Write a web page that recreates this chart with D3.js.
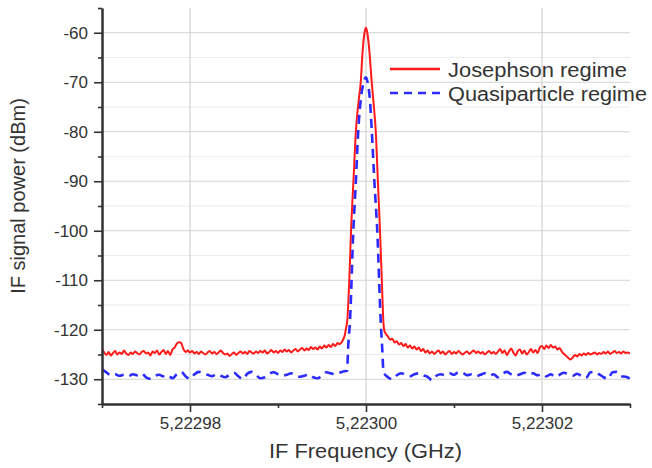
<!DOCTYPE html>
<html>
<head>
<meta charset="utf-8">
<script src="https://cdn.jsdelivr.net/npm/d3@7"></script>
<style>
  body { margin: 0; background: #fff; }
  .chart text { font-family: "Liberation Sans", Arial, sans-serif; fill: #333; }
</style>
</head>
<body>
<div class="chart"></div>
<script>
// frequency offsets are kHz from the 5,22300 GHz centre, power in dBm
var centerGHz = 5.223;

var redLeft = [
  [-30,-123.9],[-29.75,-124.6],[-29.5,-125.1],[-29.25,-124.5],[-29,-125.2],[-28.75,-124.7],[-28.5,-124.3],[-28.25,-125.0],
  [-28,-124.6],[-27.75,-124.9],[-27.5,-124.2],[-27.25,-124.8],[-27,-125.1],[-26.75,-124.6],[-26.5,-124.9],[-26.25,-124.4],
  [-26,-124.7],[-25.75,-125.0],[-25.5,-124.5],[-25.25,-124.3],[-25,-124.8],[-24.75,-124.6],[-24.5,-125.2],[-24.25,-124.4],
  [-24,-124.7],[-23.75,-124.2],[-23.5,-125.0],[-23.25,-124.5],[-23,-124.1],[-22.75,-124.9],[-22.5,-124.3],[-22.25,-125.1],
  [-22,-124.0],[-21.75,-123.6],[-21.5,-122.8],[-21.25,-122.5],[-21,-122.7],[-20.75,-123.9],[-20.5,-124.5],[-20.25,-124.2],
  [-20,-124.6],[-19.75,-124.3],[-19.5,-124.8],[-19.25,-124.5],[-19,-124.9],[-18.75,-124.4],[-18.5,-124.7],[-18.25,-125.0],
  [-18,-124.6],[-17.75,-124.3],[-17.5,-124.8],[-17.25,-124.5],[-17,-124.9],[-16.75,-124.6],[-16.5,-124.2],[-16.25,-124.7],
  [-16,-125.0],[-15.75,-124.8],[-15.5,-125.3],[-15.25,-124.9],[-15,-124.6],[-14.75,-125.1],[-14.5,-124.7],[-14.25,-124.4],
  [-14,-124.8],[-13.75,-124.5],[-13.5,-124.9],[-13.25,-124.3],[-13,-124.6],[-12.75,-124.8],[-12.5,-124.4],[-12.25,-124.7],
  [-12,-124.3],[-11.75,-124.6],[-11.5,-124.2],[-11.25,-124.8],[-11,-124.5],[-10.75,-124.1],[-10.5,-124.6],[-10.25,-124.3],
  [-10,-124.7],[-9.75,-124.2],[-9.5,-124.5],[-9.25,-124.0],[-9,-124.4],[-8.75,-124.1],[-8.5,-124.6],[-8.25,-124.2],
  [-8,-123.9],[-7.75,-124.4],[-7.5,-124.0],[-7.25,-123.7],[-7,-124.2],[-6.75,-123.8],[-6.5,-124.1],[-6.25,-123.5],
  [-6,-123.9],[-5.75,-123.6],[-5.5,-124.0],[-5.25,-123.4],[-5,-123.8],[-4.75,-123.2],[-4.5,-123.6],[-4.25,-123.1],
  [-4,-123.5],[-3.75,-122.9],[-3.5,-123.3],[-3.25,-122.7],[-3,-122.9]
];

var redPeak = [
  [-2.75,-122.5],[-2.55,-121.8],[-2.4,-121.0],[-2.25,-119.5],[-2.13,-118.2],[-1.9,-110],[-1.7,-100],[-1.4,-89],
  [-1.14,-79.6],[-0.85,-74],[-0.6,-70],[-0.375,-63.5],[-0.17,-60],[0,-59],[0.15,-60],[0.375,-63.5],
  [0.65,-70],[0.9,-75],[1.1,-79.6],[1.35,-90],[1.59,-100],[1.8,-110],[1.97,-118.2],[2.1,-120.3],[2.25,-120.8]
];

var redRight = [
  [2.5,-121.4],[2.75,-122.0],[3,-121.8],[3.25,-122.6],[3.5,-122.3],[3.75,-123.0],[4,-122.7],[4.25,-123.3],
  [4.5,-122.9],[4.75,-123.6],[5,-123.2],[5.25,-123.8],[5.5,-123.4],[5.75,-124.0],[6,-123.6],[6.25,-124.3],
  [6.5,-123.9],[6.75,-124.6],[7,-124.2],[7.25,-124.8],[7.5,-124.4],[7.75,-124.9],[8,-124.5],[8.25,-124.2],
  [8.5,-124.8],[8.75,-124.4],[9,-125.0],[9.25,-124.6],[9.5,-124.3],[9.75,-124.9],[10,-124.5],[10.25,-124.8],
  [10.5,-124.3],[10.75,-124.7],[11,-125.0],[11.25,-124.6],[11.5,-124.4],[11.75,-124.9],[12,-124.5],[12.25,-124.2],
  [12.5,-124.7],[12.75,-124.4],[13,-124.8],[13.25,-124.5],[13.5,-125.0],[13.75,-124.6],[14,-124.3],[14.25,-124.8],
  [14.5,-124.5],[14.75,-124.9],[15,-124.4],[15.25,-123.9],[15.5,-124.7],[15.75,-124.2],[16,-125.1],[16.25,-124.4],
  [16.5,-123.8],[16.75,-124.6],[17,-125.2],[17.25,-124.3],[17.5,-124.0],[17.75,-124.8],[18,-124.2],[18.25,-125.0],
  [18.5,-124.5],[18.75,-123.9],[19,-124.6],[19.25,-124.1],[19.5,-124.7],[19.75,-123.6],[20,-123.3],[20.25,-123.9],
  [20.5,-123.2],[20.75,-123.7],[21,-123.1],[21.25,-123.6],[21.5,-123.4],[21.75,-124.0],[22,-123.7],[22.25,-124.4],
  [22.5,-124.9],[22.75,-125.3],[23,-125.7],[23.25,-126.0],[23.5,-125.6],[23.75,-125.1],[24,-125.4],[24.25,-124.9],
  [24.5,-125.2],[24.75,-124.8],[25,-125.1],[25.25,-124.7],[25.5,-125.0],[25.75,-124.8],[26,-124.6],[26.25,-125.0],
  [26.5,-124.7],[26.75,-124.9],[27,-124.5],[27.25,-124.8],[27.5,-124.4],[27.75,-124.9],[28,-124.6],[28.25,-124.3],
  [28.5,-124.7],[28.75,-124.5],[29,-124.8],[29.25,-124.4],[29.5,-124.7],[29.75,-124.6],[30,-124.8]
];

var blueLeft = [
  [-30,-128.0],[-29.5,-128.6],[-29,-129.2],[-28.5,-129.0],[-28,-129.3],[-27.5,-129.1],[-27,-129.4],[-26.5,-129.0],
  [-26,-129.2],[-25.5,-128.8],[-25,-129.6],[-24.5,-129.9],[-24,-129.3],[-23.5,-129.1],[-23,-129.4],[-22.5,-129.2],
  [-22,-129.8],[-21.5,-129.0],[-21,-128.5],[-20.5,-129.4],[-20,-129.9],[-19.5,-129.0],[-19,-128.5],[-18.5,-128.8],
  [-18,-129.1],[-17.5,-129.4],[-17,-129.0],[-16.5,-129.3],[-16,-129.6],[-15.5,-129.1],[-15,-128.7],[-14.5,-129.4],
  [-14,-130.0],[-13.5,-128.9],[-13,-128.5],[-12.5,-129.1],[-12,-129.8],[-11.5,-129.6],[-11,-128.9],[-10.5,-128.6],
  [-10,-129.0],[-9.5,-129.3],[-9,-129.1],[-8.5,-128.8],[-8,-129.2],[-7.5,-129.5],[-7,-129.3],[-6.5,-129.0],
  [-6,-129.6],[-5.5,-129.8],[-5,-129.2],[-4.5,-128.6],[-4,-128.8],[-3.5,-129.0],[-3,-128.7],[-2.5,-128.4]
];

var bluePeak = [
  [-2.16,-128.3],[-2.01,-123],[-1.82,-118.2],[-1.44,-100],[-1.15,-90],[-0.875,-79.6],[-0.6,-73.6],[-0.34,-70.5],
  [0,-69],[0.23,-70.5],[0.45,-73.6],[0.65,-79.6],[0.95,-90],[1.28,-100],[1.67,-118.2],[1.85,-124],[1.99,-128.5]
];

var blueRight = [
  [2.5,-129.6],[3,-130.0],[3.5,-129.2],[4,-128.8],[4.5,-129.1],[5,-129.4],[5.5,-129.0],[6,-128.8],
  [6.5,-129.2],[7,-129.5],[7.5,-130.2],[8,-129.3],[8.5,-129.0],[9,-129.2],[9.5,-128.8],[10,-129.1],
  [10.5,-128.6],[11,-128.7],[11.5,-129.2],[12,-129.0],[12.5,-129.4],[13,-129.1],[13.5,-128.8],[14,-129.3],
  [14.5,-129.0],[15,-129.6],[15.5,-128.9],[16,-128.5],[16.5,-129.0],[17,-129.3],[17.5,-129.0],[18,-128.7],
  [18.5,-129.1],[19,-128.8],[19.5,-129.2],[20,-128.9],[20.5,-129.4],[21,-129.0],[21.5,-129.5],[22,-129.1],
  [22.5,-128.7],[23,-129.0],[23.5,-129.3],[24,-128.9],[24.5,-129.4],[25,-129.7],[25.5,-128.6],[26,-128.5],
  [26.5,-129.0],[27,-129.6],[27.5,-129.9],[28,-128.6],[28.5,-128.5],[29,-129.4],[29.5,-129.5],[30,-129.9]
];

var xMajorTicks = [-20, 0, 20];
var xMinorTicks = [-30, -10, 10, 30];
var yMajorTicks = [-130, -120, -110, -100, -90, -80, -70, -60];
var yMinorTicks = [-135, -125, -115, -105, -95, -85, -75, -65, -55];

var seriesNames = ["Josephson regime", "Quasiparticle regime"];
var seriesColors = ["#ff1a1a", "#2b2bff"];

var svgWidth = 652;
var svgHeight = 468;
var margin = { top: 8, right: 22, bottom: 64, left: 102 };
var width = svgWidth - margin.left - margin.right;
var height = svgHeight - margin.top - margin.bottom;

var svg = d3.select(".chart")
  .append("svg")
    .attr("width", svgWidth)
    .attr("height", svgHeight)
  .append("g")
    .attr("transform", "translate(" + margin.left + "," + margin.top + ")");

var x = d3.scaleLinear().domain([-30, 30]).range([0, width]);
var y = d3.scaleLinear().domain([-135, -55]).range([height, 0]);

var fmtFreq = function(k) {
  return (centerGHz + k / 1e6).toFixed(5).replace(".", ",");
};

// grid
svg.append("g").selectAll("line")
  .data(yMinorTicks.filter(function(d) { return d > -135 && d < -55; }))
  .enter().append("line")
    .attr("x1", 0).attr("x2", width)
    .attr("y1", function(d) { return y(d); })
    .attr("y2", function(d) { return y(d); })
    .attr("stroke", "#ececec").attr("stroke-width", 1);

svg.append("g").selectAll("line")
  .data(yMajorTicks)
  .enter().append("line")
    .attr("x1", 0).attr("x2", width)
    .attr("y1", function(d) { return y(d); })
    .attr("y2", function(d) { return y(d); })
    .attr("stroke", "#d2d2d2").attr("stroke-width", 1.2);

svg.append("g").selectAll("line")
  .data(xMajorTicks)
  .enter().append("line")
    .attr("y1", 0).attr("y2", height)
    .attr("x1", function(d) { return x(d); })
    .attr("x2", function(d) { return x(d); })
    .attr("stroke", "#d2d2d2").attr("stroke-width", 1.2);

// data lines
svg.append("clipPath").attr("id", "clip")
  .append("rect").attr("width", width).attr("height", height);

var line = d3.line()
  .x(function(d) { return x(d[0]); })
  .y(function(d) { return y(d[1]); })
  .curve(d3.curveMonotoneX);

svg.append("path")
  .datum(redLeft.concat(redPeak, redRight))
  .attr("clip-path", "url(#clip)")
  .attr("fill", "none")
  .attr("stroke", seriesColors[0])
  .attr("stroke-width", 2)
  .attr("stroke-linejoin", "round")
  .attr("d", line);

svg.append("path")
  .datum(blueLeft.concat(bluePeak, blueRight))
  .attr("clip-path", "url(#clip)")
  .attr("fill", "none")
  .attr("stroke", seriesColors[1])
  .attr("stroke-width", 2.6)
  .attr("stroke-dasharray", "9,6")
  .attr("d", line);

// axes
var yAxisMinor = svg.append("g")
  .call(d3.axisLeft(y).tickValues(yMinorTicks).tickSize(4).tickSizeOuter(0).tickFormat(""));
var yAxis = svg.append("g")
  .call(d3.axisLeft(y).tickValues(yMajorTicks).tickSize(8).tickSizeOuter(0).tickPadding(6)
    .tickFormat(function(d) { return String(d); }));

var xAxisMinor = svg.append("g")
  .attr("transform", "translate(0," + height + ")")
  .call(d3.axisBottom(x).tickValues(xMinorTicks).tickSize(4).tickSizeOuter(0).tickFormat(""));
var xAxis = svg.append("g")
  .attr("transform", "translate(0," + height + ")")
  .call(d3.axisBottom(x).tickValues(xMajorTicks).tickSize(8).tickSizeOuter(0).tickPadding(5).tickFormat(fmtFreq));

svg.selectAll(".domain").attr("stroke", "#333").attr("stroke-width", 2);
svg.selectAll(".tick line").attr("stroke", "#333").attr("stroke-width", 1.6);
svg.selectAll(".tick text")
  .style("font-size", "17px")
  .style("font-family", "'Liberation Sans', Arial, sans-serif")
  .attr("fill", "#333");

// axis titles
svg.append("text")
  .attr("x", width / 2 - 0.5)
  .attr("y", 450)
  .attr("text-anchor", "middle")
  .attr("textLength", 193)
  .attr("lengthAdjust", "spacingAndGlyphs")
  .style("font-size", "20px")
  .text("IF Frequency (GHz)");

svg.append("text")
  .attr("transform", "rotate(-90)")
  .attr("x", -(196 - margin.top))
  .attr("y", 25 - margin.left)
  .attr("text-anchor", "middle")
  .style("font-size", "20px")
  .text("IF signal power (dBm)");

// legend
var legend = svg.append("g").attr("transform", "translate(" + (390 - margin.left) + "," + (69 - margin.top) + ")");
var legendLen = [179, 199];
seriesNames.forEach(function(name, i) {
  var row = legend.append("g").attr("transform", "translate(0," + (i * 24) + ")");
  row.append("line")
    .attr("x1", 0).attr("x2", 50)
    .attr("stroke", seriesColors[i])
    .attr("stroke-width", i === 0 ? 2.4 : 2.6)
    .attr("stroke-dasharray", i === 0 ? null : "8,6");
  row.append("text")
    .attr("x", 58)
    .attr("y", 7.5)
    .attr("textLength", legendLen[i])
    .attr("lengthAdjust", "spacingAndGlyphs")
    .style("font-size", "20px")
    .text(name);
});
</script>
</body>
</html>
